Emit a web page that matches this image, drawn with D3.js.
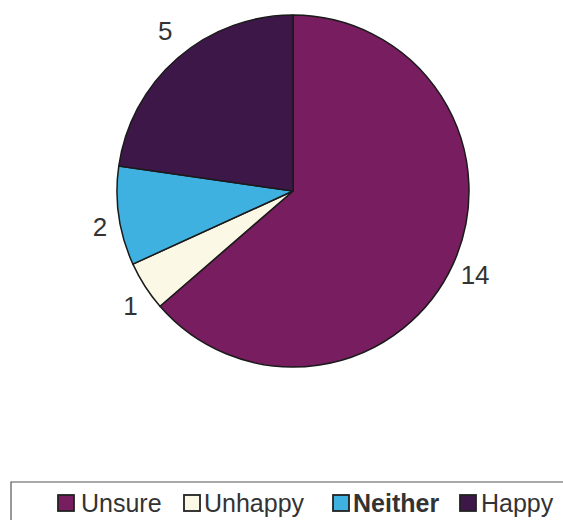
<!DOCTYPE html>
<html><head><meta charset="utf-8">
<script src="https://cdn.jsdelivr.net/npm/d3@7"></script>
<style>body{margin:0;background:#fff}</style>
</head><body>
<svg id="c" width="563" height="520"></svg>
<script>
const categories = ["Unsure", "Unhappy", "Neither", "Happy"];
const values = [14, 1, 2, 5];
const colors = ["#781d5f", "#fbf8e6", "#3fb1e0", "#3e1749"];
const boldLegend = [false, false, true, false];

const svg = d3.select("#c");
const cx = 293, cy = 191, r = 176;
const data = categories.map((c, i) => ({cat: c, val: values[i], col: colors[i]}));
const pie = d3.pie().sort(null).value(d => d.val);
const arcs = pie(data);
const arc = d3.arc().innerRadius(0).outerRadius(r);
const labelArc = d3.arc().innerRadius(198).outerRadius(198);

const g = svg.append("g").attr("transform", `translate(${cx},${cy})`);
g.selectAll("path").data(arcs).join("path")
  .attr("d", arc).attr("fill", d => d.data.col)
  .attr("stroke", "#1a1a1a").attr("stroke-width", 1.5).attr("stroke-linejoin", "round");

const labelOffsets = [[2, 2], [4, 8], [3, 8], [2, -10]];
g.selectAll("text.lbl").data(arcs).join("text").attr("class", "lbl")
  .attr("x", (d, i) => labelArc.centroid(d)[0] + labelOffsets[i][0])
  .attr("y", (d, i) => labelArc.centroid(d)[1] + labelOffsets[i][1])
  .attr("text-anchor", "middle").attr("dominant-baseline", "central")
  .attr("font-family", "Liberation Sans, Arial, sans-serif").attr("font-size", 26)
  .attr("fill", "#333").text(d => d.data.val);

// legend
svg.append("path").attr("d", "M11,520 V482 H563").attr("fill", "none")
  .attr("stroke", "#555").attr("stroke-width", 1.2);
const lg = svg.append("g");
const sqX = [57, 183, 332, 459];
const txX = [81, 204, 353, 481];
data.forEach((d, i) => {
  lg.append("rect").attr("x", sqX[i] + 1).attr("y", 495).attr("width", 16).attr("height", 16)
    .attr("fill", d.col).attr("stroke", "#222").attr("stroke-width", 1.8);
  lg.append("text").attr("x", txX[i]).attr("y", 512)
    .attr("font-family", "Liberation Sans, Arial, sans-serif").attr("font-size", 25)
    .attr("font-weight", boldLegend[i] ? "bold" : "normal")
    .attr("fill", "#333").text(d.cat);
});
</script>
</body></html>
